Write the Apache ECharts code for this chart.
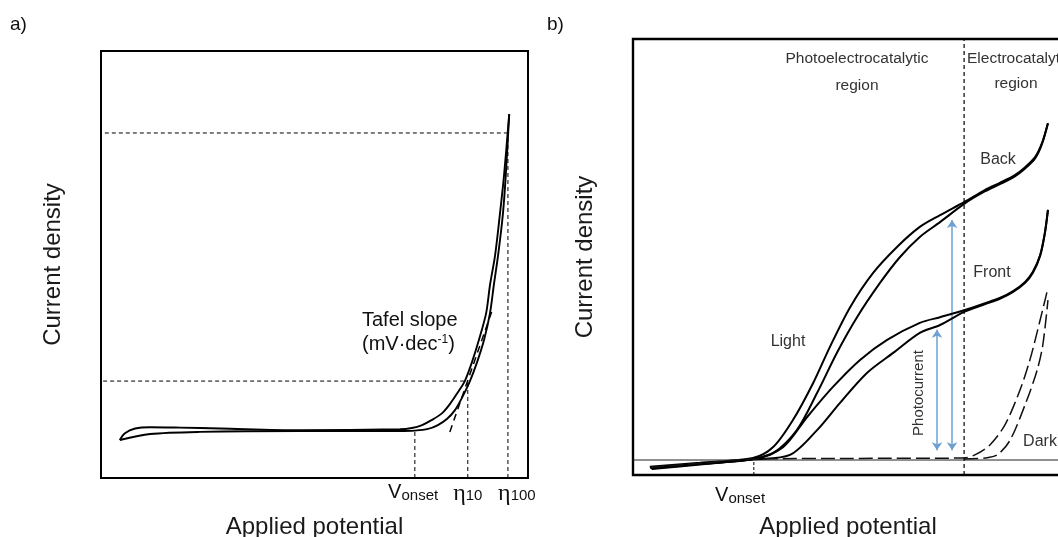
<!DOCTYPE html>
<html><head><meta charset="utf-8">
<script src="https://cdn.jsdelivr.net/npm/echarts@6/dist/echarts.min.js"></script>
<style>html,body{margin:0;padding:0;background:#fff}#c{width:1058px;height:537px}</style>
</head><body><div id="c"></div>
<script>
// ---------- Panel a (LSV / CV loop, arbitrary units 0-100) ----------
const aForward = [[4.4,8.9],[11.5,10.3],[23.2,10.8],[46.6,11.0],[70.0,11.0],[73.5,11.1],[76.6,11.5],[78.9,12.4],[81.0,13.8],[82.9,15.9],[84.5,18.7],[86.4,22.7],[88.1,27.2],[89.7,32.3],[91.1,38.6],[92.0,45.2],[93.0,52.2],[94.1,61.6],[94.8,71.0],[95.6,85.2]];
const aReturn = [[95.6,85.2],[94.4,71.0],[93.4,61.6],[92.3,52.2],[91.1,45.2],[90.2,38.6],[88.5,32.3],[86.9,27.2],[85.2,22.7],[83.6,20.1],[81.7,17.3],[79.9,15.2],[77.5,13.6],[75.2,12.4],[72.8,11.7],[70.0,11.4],[46.6,11.2],[27.9,11.6],[18.5,11.8],[11.5,11.9],[8.0,11.6],[5.6,10.5],[4.4,8.9]];
const aTafel = [[81.7,10.8],[91.8,39.8]];
const aVonset = 73.5, aEta10 = 85.9, aEta100 = 95.3;
const aJ10 = 22.7, aJ100 = 80.8;
const aTickPos = [73.1, 85.9, 97.4];
const aTickText = [['V','onset'],['η','10'],['η','100']];

// ---------- Panel b (PEC curves, arbitrary units 0-100) ----------
const bBackOuter = [[3.9,1.9],[15.6,2.8],[27.9,3.9],[32.6,6.4],[37.2,12.6],[41.9,21.1],[45.8,29.4],[50.5,38.5],[55.8,46.3],[61.4,52.3],[66.7,56.9],[71.4,59.6],[77.0,62.6],[81.9,65.4],[85.3,67.0],[88.8,68.8],[91.2,70.6],[93.5,72.9],[95.1,76.1],[96.5,80.7]];
const bBackInner = [[4.4,1.4],[15.6,2.4],[27.9,3.67],[32.6,5.0],[38.1,10.3],[42.8,18.8],[47.4,28.0],[52.1,36.2],[57.4,44.0],[62.1,50.0],[66.7,54.6],[71.4,58.0],[77.0,62.2],[81.9,65.1],[85.3,66.7],[88.8,68.5],[91.2,70.3],[93.5,72.6],[95.1,75.9],[96.5,80.7]];
const bFrontUpper = [[4.0,1.6],[15.6,2.6],[28.1,3.67],[34.9,6.4],[40.5,13.3],[46.5,20.2],[52.8,26.4],[59.1,31.0],[66.7,34.9],[71.4,36.2],[77.0,37.8],[81.9,39.4],[85.3,40.6],[88.4,42.2],[91.2,44.3],[93.0,46.6],[94.7,50.5],[95.8,55.7],[96.5,60.8]];
const bFrontLower = [[4.2,1.5],[15.6,2.5],[28.1,3.6],[36.5,4.6],[42.8,10.3],[48.1,16.5],[54.4,23.4],[60.5,28.0],[66.7,32.6],[71.4,34.4],[77.0,37.4],[81.9,39.2],[85.3,40.4],[88.4,42.0],[91.2,44.1],[93.0,46.4],[94.7,50.3],[95.8,55.5],[96.5,60.8]];
const bDarkOuter = [[4.0,1.7],[15.6,2.7],[28.1,3.67],[50.5,3.8],[77.0,3.9],[79.5,4.6],[83.0,6.9],[86.5,11.5],[90.0,19.5],[92.3,26.4],[94.7,35.6],[96.5,42.9]];
const bDarkInner = [[77.0,3.67],[81.9,3.9],[84.7,4.6],[87.7,8.0],[91.6,17.2],[94.0,24.1],[95.3,29.8],[96.5,40.1]];
const bBaseline = 3.44;
const bBoundary = 77.0;
const bVonset = 28.1;
const bArrowFront = [[70.7,33.3],[70.7,5.7]];
const bArrowBack = [[74.2,58.5],[74.2,5.7]];
const bTickPos = [24.9];
const bTickText = [['V','onset']];

const FONT = 'Liberation Sans, Arial, sans-serif';
const chart = echarts.init(document.getElementById('c'));

function lineS(data, xi, opts) {
  return Object.assign({
    type: 'line', xAxisIndex: xi, yAxisIndex: xi, data: data,
    showSymbol: false, symbol: 'none', smooth: 0.3, animation: false, silent: true,
    lineStyle: { color: '#000', width: 1.9 }
  }, opts || {});
}
function dashed(data, xi, w, dash) {
  return lineS(data, xi, { smooth: false, lineStyle: { color: '#000', width: w || 1, type: dash || [4, 3] } });
}
function tickFmt(pos, txt) {
  return function (v, i) {
    let k = pos.indexOf(v); if (k < 0) k = i;
    const t = txt[k]; if (!t) return '';
    return (t[0] === 'η' ? '{e|η}' : '{b|' + t[0] + '}') + '{s|' + t[1] + '}';
  };
}
const rich = {
  b: { fontFamily: FONT, fontSize: 20, color: '#111', padding: [0, 0, 7, 0] },
  e: { fontFamily: 'Liberation Serif, serif', fontSize: 24, color: '#111', padding: [0, 0, 3, 0] },
  s: { fontFamily: FONT, fontSize: 15, color: '#111' }
};
function xAx(idx, pos, txt, gap, margin) {
  return {
    type: 'value', gridIndex: idx, min: 0, max: 100,
    axisLine: { show: false }, axisTick: { show: false }, splitLine: { show: false },
    axisLabel: { customValues: pos, formatter: tickFmt(pos, txt), rich: rich, margin: margin, hideOverlap: false, showMinLabel: true, showMaxLabel: true },
    name: 'Applied potential', nameLocation: 'middle', nameGap: gap,
    nameTextStyle: { fontFamily: FONT, fontSize: 24, color: '#1a1a1a' }
  };
}
function yAx(idx) {
  return {
    type: 'value', gridIndex: idx, min: 0, max: 100,
    axisLine: { show: false }, axisTick: { show: false }, splitLine: { show: false }, axisLabel: { show: false },
    name: 'Current density', nameLocation: 'middle', nameGap: 36, nameRotate: 90,
    nameTextStyle: { fontFamily: FONT, fontSize: 24, color: '#1a1a1a' }
  };
}

const series = [
  lineS(aForward, 0),
  lineS(aReturn, 0),
  dashed([[0.9, aJ100], [aEta100, aJ100]], 0),
  dashed([[0.5, aJ10], [aEta10, aJ10]], 0),
  dashed([[aVonset, 0], [aVonset, 11.2]], 0),
  dashed([[aEta10, 0], [aEta10, aJ10]], 0),
  dashed([[aEta100, 0], [aEta100, aJ100]], 0),
  dashed(aTafel, 0, 1.5, [7, 5]),

  lineS([[0, bBaseline], [100, bBaseline]], 1, { smooth: false, lineStyle: { color: '#222', width: 1.2 } }),
  dashed([[bBoundary, 0], [bBoundary, 100]], 1, 1.2, [4, 3]),
  dashed([[bVonset, 0], [bVonset, bBaseline]], 1, 1, [3, 2]),
  lineS(bBackOuter, 1, { lineStyle: { color: '#000', width: 2 } }),
  lineS(bBackInner, 1, { lineStyle: { color: '#000', width: 2 } }),
  lineS(bFrontUpper, 1, { lineStyle: { color: '#000', width: 2 } }),
  lineS(bFrontLower, 1, { lineStyle: { color: '#000', width: 2 } }),
  lineS(bDarkOuter, 1, { lineStyle: { color: '#111', width: 1.5, type: [14, 5] } }),
  lineS(bDarkInner, 1, { lineStyle: { color: '#111', width: 1.5, type: [14, 5] } }),
  {
    type: 'lines', coordinateSystem: 'cartesian2d', xAxisIndex: 1, yAxisIndex: 1,
    symbol: ['arrow', 'arrow'], symbolSize: 8, animation: false, silent: true,
    lineStyle: { color: '#6fa0d2', width: 1.5, opacity: 1 },
    data: [{ coords: bArrowFront }, { coords: bArrowBack }]
  }
];

const T = (x, y, text, size, color, align, extra) => Object.assign({
  type: 'text', x: x, y: y, silent: true,
  style: { text: text, fontFamily: FONT, fontSize: size, fill: color, align: align || 'center', verticalAlign: 'middle' }
}, extra || {});

chart.setOption({
  animation: false,
  grid: [
    { left: 101, top: 51, width: 427, height: 427, show: true, borderColor: '#000', borderWidth: 2, backgroundColor: 'transparent', outerBoundsMode: 'none', containLabel: false },
    { left: 633, top: 39, width: 430, height: 436, show: true, borderColor: '#000', borderWidth: 2.4, backgroundColor: 'transparent', outerBoundsMode: 'none', containLabel: false }
  ],
  xAxis: [xAx(0, aTickPos, aTickText, 37, 4), xAx(1, bTickPos, bTickText, 40, 10)],
  yAxis: [yAx(0), yAx(1)],
  series: series,
  graphic: [
    T(10, 25, 'a)', 19, '#111', 'left'),
    T(547, 25, 'b)', 19, '#111', 'left'),
    T(362, 320, 'Tafel slope', 20, '#111', 'left'),
    {
      type: 'text', x: 362, y: 344, silent: true,
      style: { text: '(mV·dec{sup|-1})', fontFamily: FONT, fontSize: 20, fill: '#111', align: 'left', verticalAlign: 'middle',
        rich: { sup: { fontFamily: FONT, fontSize: 12, fill: '#111', padding: [0, 0, 9, 0] } } }
    },
    T(857, 59, 'Photoelectrocatalytic', 15.5, '#333'),
    T(857, 86, 'region', 15.5, '#333'),
    T(967, 59, 'Electrocatalytic', 15.5, '#333', 'left'),
    T(1016, 84, 'region', 15.5, '#333'),
    T(998, 160, 'Back', 16, '#333'),
    T(992, 273, 'Front', 16, '#333'),
    T(788, 342, 'Light', 16, '#333'),
    T(1040, 442, 'Dark', 16, '#333'),
    T(919, 393, 'Photocurrent', 15, '#333', 'center', { rotation: Math.PI / 2 })
  ]
});
</script></body></html>
